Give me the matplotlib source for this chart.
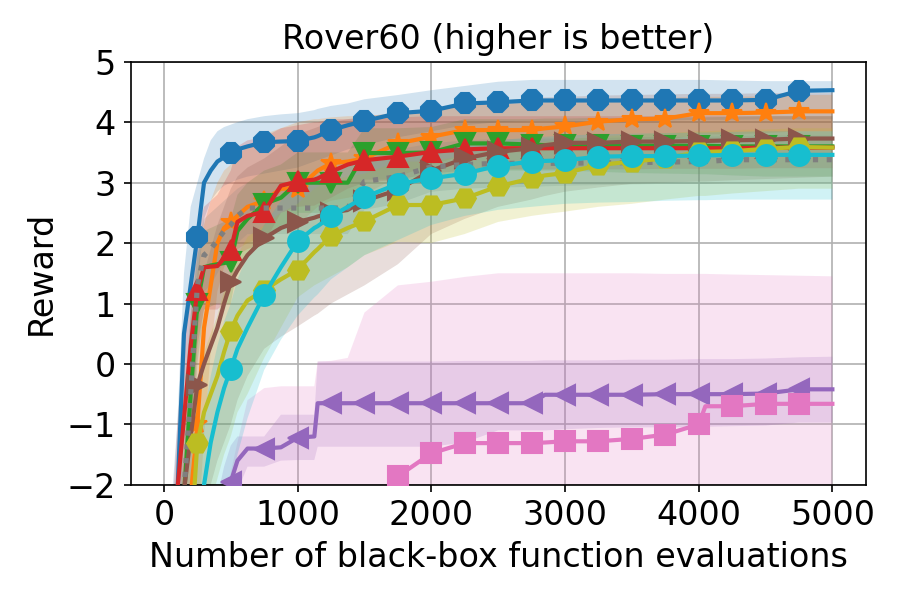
import numpy as np
import matplotlib
matplotlib.use("Agg")
import matplotlib.pyplot as plt

plt.rcParams['font.family'] = ['DejaVu Sans']
plt.rcParams['font.size'] = 16

# evaluation grid
evals = [0, 100, 150, 200, 250, 300, 350, 400, 450, 500, 550, 625,
         750, 875, 1000, 1125, 1150, 1250, 1375, 1500, 1750, 2000, 2250, 2500,
         2750, 2850, 3000, 3250, 3500, 3750, 4000, 4050, 4250, 4500, 4750, 5000]

blue_mean = [-6, -2.2, 0.5, 1.3, 2.1, 3.0, 3.2, 3.35, 3.42, 3.49, 3.55, 3.6,
             3.67, 3.68, 3.69, 3.75, 3.77, 3.87, 3.95, 4.02, 4.15, 4.19, 4.31, 4.33,
             4.36, 4.36, 4.36, 4.36, 4.36, 4.36, 4.36, 4.36, 4.36, 4.37, 4.52, 4.53]
blue_lo = [-9, -4, -1.0, 0.2, 1.2, 2.4, 2.7, 2.85, 2.95, 3.0, 3.05, 3.1,
           3.15, 3.2, 3.25, 3.35, 3.37, 3.45, 3.55, 3.62, 3.75, 3.85, 3.95, 4.0,
           4.02, 4.02, 4.02, 4.03, 4.03, 4.03, 4.04, 4.04, 4.04, 4.05, 4.05, 4.05]
blue_hi = [-4, -1.0, 1.5, 2.6, 3.0, 3.4, 3.7, 3.85, 3.92, 3.96, 4.0, 4.05,
           4.1, 4.13, 4.15, 4.2, 4.22, 4.27, 4.31, 4.38, 4.45, 4.53, 4.6, 4.67,
           4.7, 4.7, 4.7, 4.7, 4.7, 4.7, 4.7, 4.7, 4.69, 4.68, 4.68, 4.68]

orange_mean = [-8, -5, -3.5, -2.2, -1.0, 0.6, 1.3, 2.0, 2.25, 2.35, 2.45, 2.6,
               2.7, 2.9, 2.9, 3.15, 3.2, 3.32, 3.35, 3.4, 3.65, 3.76, 3.87, 3.87,
               3.87, 3.9, 3.93, 4.01, 4.05, 4.06, 4.15, 4.15, 4.15, 4.16, 4.18, 4.18]
orange_lo = [-11, -8, -6, -4, -3, -1.2, 0.2, 1.2, 1.6, 1.75, 1.9, 2.0,
             2.1, 2.3, 2.3, 2.55, 2.6, 2.7, 2.75, 2.8, 3.1, 3.3, 3.45, 3.5,
             3.5, 3.52, 3.55, 3.62, 3.68, 3.7, 3.8, 3.8, 3.8, 3.82, 3.85, 3.85]
orange_hi = [-5, -3, -1.5, 0.0, 1.5, 2.3, 2.7, 3.0, 3.2, 3.3, 3.45, 3.6,
             3.8, 3.9, 4.0, 4.05, 4.05, 4.08, 4.1, 4.1, 4.15, 4.22, 4.28, 4.3,
             4.32, 4.33, 4.35, 4.38, 4.4, 4.4, 4.42, 4.42, 4.42, 4.43, 4.45, 4.45]

green_mean = [-8, -4, -2.2, -0.5, 1.0, 1.6, 1.63, 1.65, 1.67, 1.69, 2.2, 2.4,
              2.65, 2.75, 3.0, 3.0, 3.0, 3.0, 3.0, 3.49, 3.49, 3.5, 3.65, 3.65,
              3.63, 3.62, 3.62, 3.62, 3.61, 3.61, 3.61, 3.61, 3.6, 3.6, 3.6, 3.6]
green_lo = [-11, -6, -4, -2, 0.0, 0.9, 0.95, 1.0, 1.0, 1.0, 1.6, 1.8,
            2.1, 2.2, 2.5, 2.5, 2.5, 2.5, 2.5, 3.05, 3.05, 3.08, 3.2, 3.2,
            3.2, 3.2, 3.2, 3.18, 3.16, 3.15, 3.14, 3.14, 3.12, 3.1, 3.1, 3.1]
green_hi = [-5, -2, -0.5, 0.8, 1.8, 2.2, 2.25, 2.3, 2.35, 2.4, 2.8, 3.0,
            3.2, 3.3, 3.5, 3.5, 3.5, 3.5, 3.5, 3.9, 3.9, 3.92, 4.05, 4.05,
            4.05, 4.06, 4.06, 4.07, 4.07, 4.08, 4.08, 4.08, 4.09, 4.1, 4.1, 4.1]

red_mean = [-8, -2.1, -0.9, 0.3, 1.22, 1.6, 1.61, 1.62, 1.75, 1.89, 2.35, 2.45,
            2.52, 2.95, 3.02, 3.05, 3.07, 3.18, 3.3, 3.37, 3.43, 3.51, 3.55, 3.57,
            3.57, 3.57, 3.57, 3.57, 3.57, 3.57, 3.57, 3.57, 3.57, 3.58, 3.58, 3.58]
red_lo = [-11, -4, -2.5, -1.2, 0.3, 0.9, 0.9, 0.9, 1.0, 1.2, 1.8, 1.9,
          2.0, 2.5, 2.6, 2.62, 2.65, 2.75, 2.9, 3.0, 3.05, 3.15, 3.2, 3.22,
          3.22, 3.22, 3.22, 3.22, 3.22, 3.23, 3.23, 3.23, 3.23, 3.24, 3.24, 3.24]
red_hi = [-5, -1, 0.3, 1.4, 2.2, 2.6, 2.7, 2.8, 3.0, 3.2, 3.6, 3.7,
          3.75, 3.9, 3.95, 4.0, 4.0, 4.05, 4.05, 4.05, 4.08, 4.1, 4.1, 4.1,
          4.1, 4.1, 4.1, 4.1, 4.1, 4.1, 4.1, 4.1, 4.1, 4.1, 4.1, 4.1]

purple_mean = [-8, -6, -5, -4, -3.5, -3, -2.7, -2.3, -2.1, -1.95, -1.6, -1.4,
               -1.4, -1.38, -1.22, -1.2, -0.65, -0.65, -0.65, -0.65, -0.65, -0.65, -0.65, -0.65,
               -0.65, -0.51, -0.51, -0.51, -0.51, -0.5, -0.5, -0.5, -0.5, -0.49, -0.42, -0.42]
purple_lo = [-11, -9, -8, -7, -6, -5, -4, -3.5, -3, -2.6, -2.1, -1.7,
             -1.7, -1.6, -1.59, -1.59, -1.37, -1.37, -1.37, -1.37, -1.37, -1.37, -1.3, -1.1,
             -1.1, -1.1, -1.08, -1.06, -1.05, -1.05, -1.04, -1.04, -1.03, -1.02, -0.97, -0.97]
purple_hi = [-5, -4, -3.5, -3, -2.8, -2.6, -2.4, -2.2, -1.7, -1.35, -1.2, -1.2,
             -1.2, -0.84, -0.84, -0.84, 0.04, 0.04, 0.04, 0.04, 0.04, 0.04, 0.05, 0.05,
             0.05, 0.06, 0.06, 0.06, 0.07, 0.07, 0.08, 0.08, 0.08, 0.09, 0.11, 0.12]

brown_mean = [-8, -4, -2.1, -1.2, -0.35, 0.0, 0.3, 0.6, 1.0, 1.35, 1.55, 1.8,
              2.08, 2.25, 2.35, 2.42, 2.44, 2.5, 2.55, 2.7, 2.88, 3.2, 3.4, 3.51,
              3.57, 3.62, 3.66, 3.66, 3.68, 3.68, 3.69, 3.69, 3.7, 3.71, 3.73, 3.73]
brown_lo = [-11, -7, -5, -4, -3, -2.5, -2, -1.6, -1.3, -1.0, -0.6, -0.2,
            0.25, 0.45, 0.62, 0.8, 0.83, 1.0, 1.15, 1.3, 1.65, 2.15, 2.4, 2.6,
            2.72, 2.78, 2.85, 2.92, 2.98, 3.0, 3.02, 3.02, 3.04, 3.06, 3.08, 3.1]
brown_hi = [-5, -3, -1.5, 0.0, 1.0, 1.5, 1.9, 2.3, 2.6, 2.9, 3.1, 3.25,
            3.4, 3.6, 3.8, 3.9, 3.92, 4.0, 4.05, 4.1, 4.15, 4.2, 4.28, 4.35,
            4.4, 4.41, 4.42, 4.44, 4.45, 4.46, 4.47, 4.47, 4.47, 4.48, 4.48, 4.48]

pink_mean = [-9, -9, -9, -9, -8.5, -8, -7.5, -7, -6.5, -6, -5.5, -5,
             -4.5, -4, -3.8, -3.6, -3.5, -3.2, -2.9, -2.45, -1.86, -1.48, -1.31, -1.31,
             -1.31, -1.3, -1.28, -1.28, -1.24, -1.17, -1.0, -0.7, -0.7, -0.66, -0.66, -0.66]
pink_lo = [-11, -11, -11, -11, -11, -11, -11, -11, -11, -11, -11, -11,
           -11, -11, -11, -11, -11, -11, -11, -11, -11, -11, -11, -11,
           -11, -11, -11, -11, -11, -11, -11, -11, -11, -11, -11, -11]
pink_hi = [-5, -5, -5, -5, -4, -3.5, -3, -2.8, -2.5, -1.8, -1.3, -0.6,
           -0.4, -0.37, -0.37, -0.37, 0.04, 0.05, 0.1, 0.85, 1.3, 1.36, 1.44, 1.5,
           1.5, 1.5, 1.5, 1.5, 1.5, 1.49, 1.49, 1.49, 1.48, 1.47, 1.46, 1.45]

gray_mean = [-8, -4, -2.1, -0.5, 1.3, 1.8, 1.9, 2.05, 2.2, 2.3, 2.45, 2.58,
             2.58, 2.58, 2.58, 2.58, 2.58, 2.58, 2.58, 3.02, 3.1, 3.26, 3.3, 3.32,
             3.32, 3.32, 3.32, 3.33, 3.33, 3.34, 3.35, 3.35, 3.38, 3.38, 3.38, 3.38]
gray_lo = [-11, -7, -4, -2, 0.5, 1.2, 1.3, 1.5, 1.7, 1.8, 2.0, 2.15,
           2.15, 2.15, 2.15, 2.15, 2.15, 2.15, 2.15, 2.55, 2.65, 2.85, 2.9, 2.92,
           2.93, 2.94, 2.95, 2.96, 2.97, 2.98, 2.98, 2.98, 3.0, 3.0, 3.0, 3.0]
gray_hi = [-5, -2, -1, 0.8, 2.0, 2.4, 2.5, 2.6, 2.7, 2.8, 2.9, 3.0,
           3.0, 3.0, 3.0, 3.0, 3.0, 3.0, 3.0, 3.5, 3.55, 3.65, 3.7, 3.72,
           3.72, 3.73, 3.73, 3.74, 3.75, 3.76, 3.76, 3.76, 3.77, 3.78, 3.78, 3.78]

olive_mean = [-8, -6, -4.5, -3, -1.31, -0.8, -0.5, -0.2, 0.2, 0.55, 0.8, 1.05,
              1.22, 1.4, 1.56, 1.85, 1.9, 2.12, 2.25, 2.36, 2.63, 2.63, 2.74, 2.94,
              3.07, 3.12, 3.16, 3.29, 3.35, 3.4, 3.51, 3.51, 3.52, 3.56, 3.59, 3.58]
olive_lo = [-11, -10, -9, -6, -3, -2.6, -2.3, -1.9, -1.5, -1.2, -0.8, -0.5,
            0.1, 0.6, 1.1, 1.3, 1.33, 1.45, 1.6, 1.8, 2.02, 2.0, 2.15, 2.35,
            2.45, 2.48, 2.52, 2.6, 2.65, 2.72, 2.78, 2.78, 2.82, 2.86, 2.9, 2.9]
olive_hi = [-5, -4, -3.5, -2, -0.3, 0.2, 0.5, 0.8, 1.2, 1.5, 1.8, 2.1,
            2.3, 2.5, 2.65, 2.9, 2.93, 3.05, 3.1, 3.15, 3.35, 3.35, 3.45, 3.55,
            3.65, 3.68, 3.72, 3.76, 3.8, 3.82, 3.85, 3.85, 3.87, 3.88, 3.9, 3.9]

cyan_mean = [-8, -7, -6, -5, -3, -2.0, -1.3, -0.8, -0.4, -0.08, 0.25, 0.6,
             1.14, 1.6, 2.03, 2.25, 2.28, 2.44, 2.6, 2.76, 2.98, 3.07, 3.15, 3.28,
             3.35, 3.36, 3.37, 3.43, 3.44, 3.44, 3.45, 3.45, 3.46, 3.46, 3.46, 3.46]
cyan_lo = [-11, -9, -8, -7, -6, -4, -3, -2.6, -2.3, -2.0, -1.5, -0.9,
           -0.1, 0.4, 0.8, 1.1, 1.15, 1.4, 1.6, 1.8, 2.05, 2.3, 2.45, 2.55,
           2.6, 2.62, 2.65, 2.67, 2.68, 2.7, 2.71, 2.71, 2.72, 2.72, 2.72, 2.72]
cyan_hi = [-5, -4, -3.5, -3, -1.5, -0.8, -0.2, 0.3, 0.7, 1.0, 1.4, 1.8,
           2.3, 2.7, 3.0, 3.1, 3.12, 3.2, 3.3, 3.35, 3.45, 3.55, 3.6, 3.7,
           3.75, 3.76, 3.78, 3.8, 3.81, 3.82, 3.83, 3.83, 3.84, 3.85, 3.85, 3.85]

series = [
    (blue_mean, blue_lo, blue_hi, 'tab:blue', '8', '-'),
    (orange_mean, orange_lo, orange_hi, 'tab:orange', '*', '-'),
    (green_mean, green_lo, green_hi, 'tab:green', 'v', '-'),
    (red_mean, red_lo, red_hi, 'tab:red', '^', '-'),
    (purple_mean, purple_lo, purple_hi, 'tab:purple', '<', '-'),
    (brown_mean, brown_lo, brown_hi, 'tab:brown', '>', '-'),
    (pink_mean, pink_lo, pink_hi, 'tab:pink', 's', '-'),
    (gray_mean, gray_lo, gray_hi, 'tab:gray', 'None', ':'),
    (olive_mean, olive_lo, olive_hi, 'tab:olive', 'H', '-'),
    (cyan_mean, cyan_lo, cyan_hi, 'tab:cyan', 'o', '-'),
]

x = np.array(evals)
mark_idx = [i for i, v in enumerate(evals) if v % 250 == 0 and v < 5000]

fig = plt.figure(figsize=(6, 4), dpi=150)
ax = fig.add_axes([0.145, 0.192, 0.817, 0.705])

for mean, lo, hi, c, m, ls in series:
    ax.fill_between(x, lo, hi, color=c, alpha=0.2, linewidth=0, zorder=1)

for mean, lo, hi, c, m, ls in series:
    lw = 2.5 if ls == ':' else 2
    ax.plot(x, mean, color=c, marker=m, linestyle=ls, linewidth=lw,
            markersize=10, markevery=mark_idx, zorder=3)

ax.set_xlim(-250, 5250)
ax.set_ylim(-2, 5)
ax.set_xticks([0, 1000, 2000, 3000, 4000, 5000])
ax.set_yticks([-2, -1, 0, 1, 2, 3, 4, 5])
ax.grid(True, color='#b0b0b0', linewidth=0.8)
ax.set_axisbelow(True)
ax.set_title('Rover60 (higher is better)', fontsize=16)
ax.set_xlabel('Number of black-box function evaluations', fontsize=16)
ax.set_ylabel('Reward', fontsize=16)

fig.savefig('out.png', dpi=150)
